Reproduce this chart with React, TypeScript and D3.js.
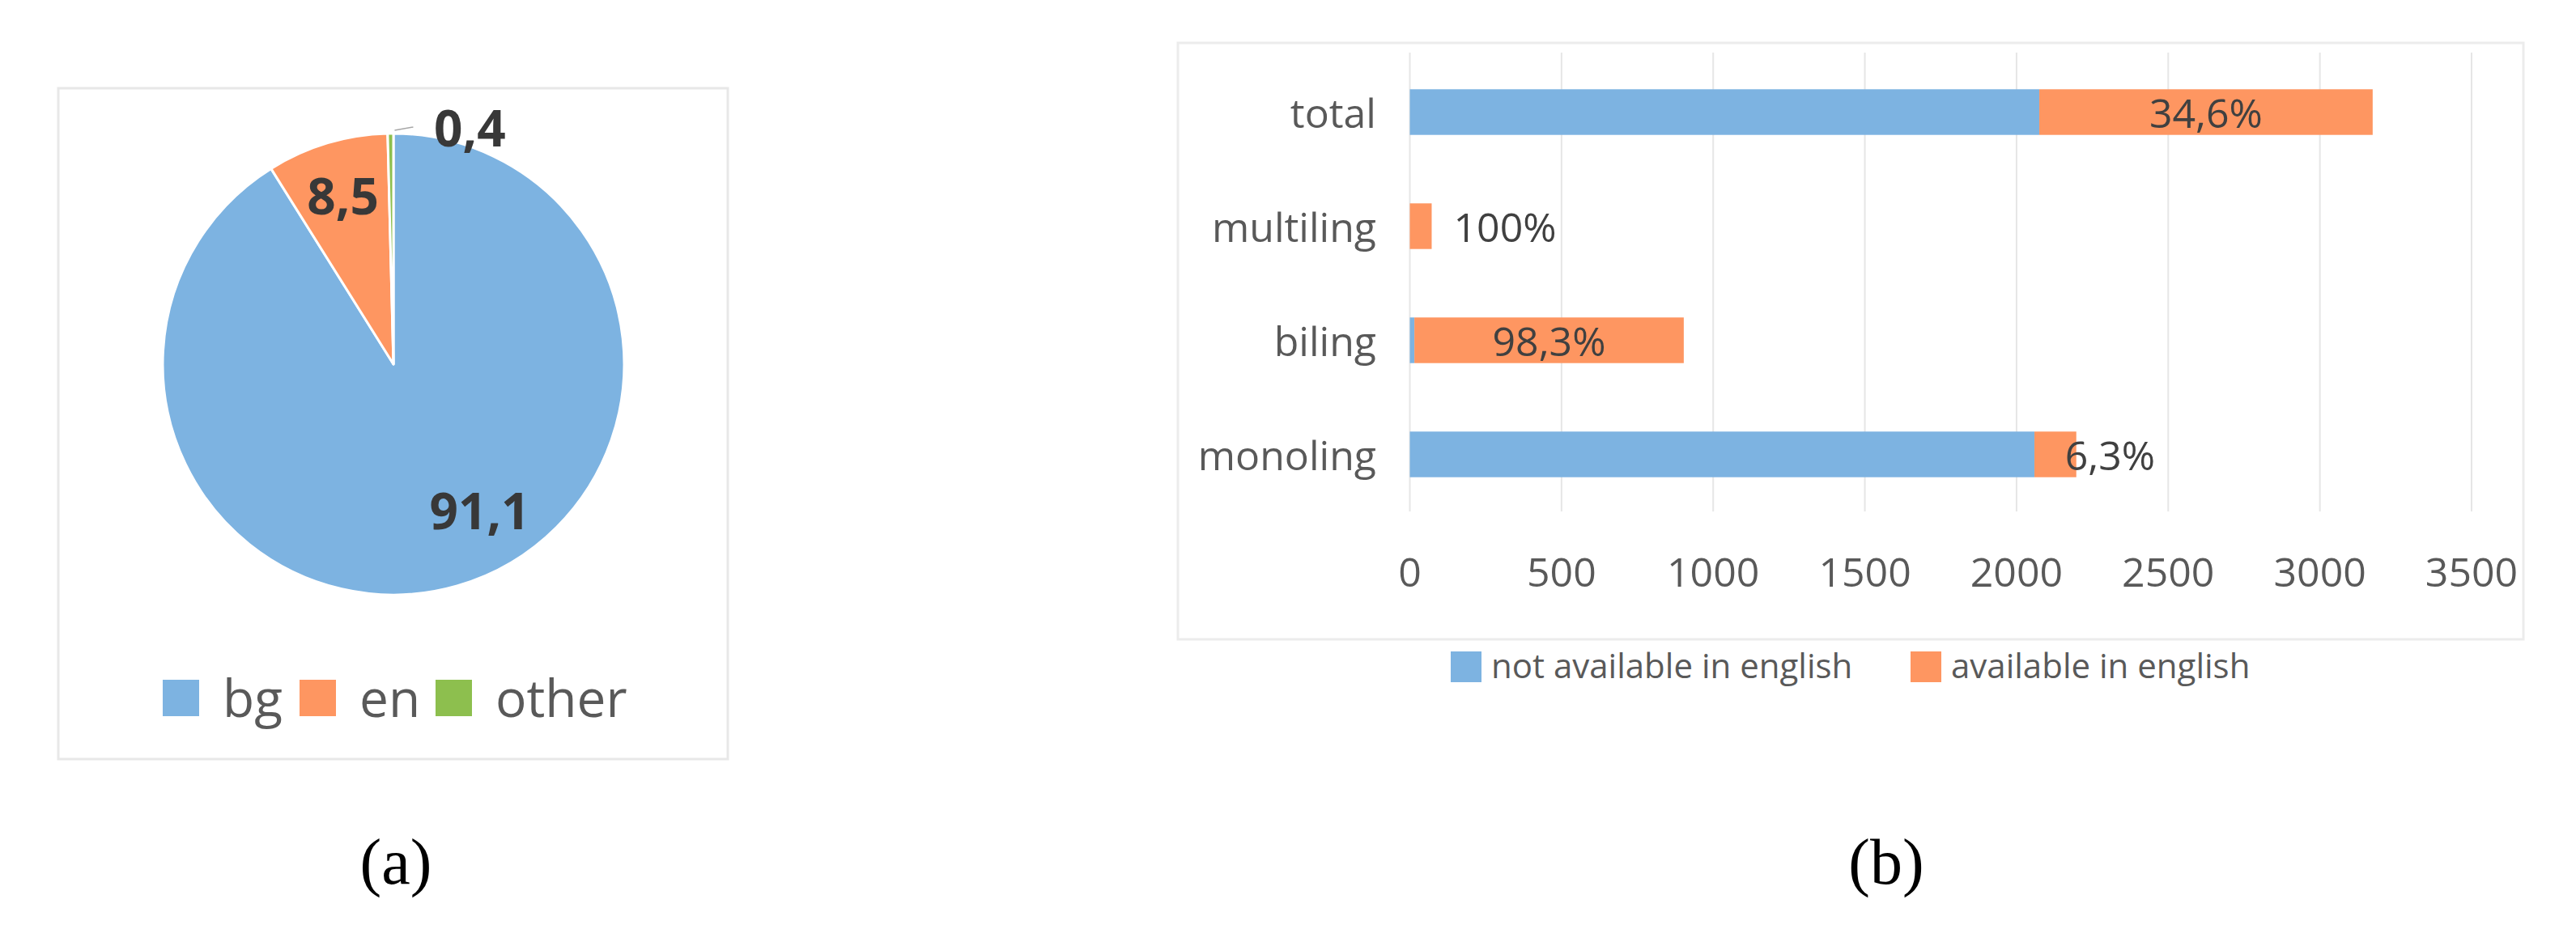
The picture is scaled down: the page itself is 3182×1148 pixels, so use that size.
import React from "react";
import * as d3 from "d3";

// ---------- data: panel (a) pie ----------
const pieLabels = ["bg", "en", "other"];
const pieValues = [91.1, 8.5, 0.4];
const pieValueText = ["91,1", "8,5", "0,4"];

// ---------- data: panel (b) stacked bars ----------
const barCategories = ["total", "multiling", "biling", "monoling"];
const notAvailableEn = [2075, 0, 15, 2059];
const availableEn = [1099, 72, 888, 138];
const pctLabels = ["34,6%", "100%", "98,3%", "6,3%"];
const xTicks = [0, 500, 1000, 1500, 2000, 2500, 3000, 3500];
const seriesNames = ["not available in english", "available in english"];

const BLUE = "#7db3e1";
const ORANGE = "#fe9661";
const GREEN = "#8dbf4e";
const pieColors = [BLUE, ORANGE, GREEN];
const SANS = "'Open Sans', 'Noto Sans', sans-serif";
const SERIF = "'Liberation Serif', 'DejaVu Serif', serif";

function PiePanel() {
  const cx = 486;
  const cy = 450;
  const r = 285;
  const arcs = d3
    .pie<number>()
    .sort(null)
    .value((d) => d)(pieValues);
  const arcGen = d3.arc<d3.PieArcDatum<number>>().innerRadius(0).outerRadius(r);
  // label placement per slice: radius fraction, angular nudge (rad)
  const labelR = [0.74, 0.76, 1.02];
  const labelNudge = [-0.25, 0, 0];
  const labelDx = [0, 0, 98];
  const fs = 62;
  const legendX = [201, 370, 538];
  return (
    <g>
      <rect x={72} y={109} width={827} height={829} fill="#fff" stroke="#e8e8e8" strokeWidth={3} />
      <g transform={`translate(${cx},${cy})`}>
        {arcs.map((a, i) => (
          <path key={i} d={arcGen(a) || ""} fill={pieColors[i]} stroke="#fff" strokeWidth={3} strokeLinejoin="round" />
        ))}
        {arcs.map((a, i) => {
          const mid = (a.startAngle + a.endAngle) / 2 + labelNudge[i];
          const rr = r * labelR[i];
          const x = Math.sin(mid) * rr + labelDx[i];
          const y = -Math.cos(mid) * rr;
          return (
            <g key={i}>
              {i === 2 && (
                <polyline
                  points={`${Math.sin(mid) * r + 5},${-r - 4} ${Math.sin(mid) * r + 28},${-r - 8}`}
                  fill="none"
                  stroke="#a6a6a6"
                  strokeWidth={1.5}
                />
              )}
              <text x={x} y={y + fs * 0.357} textAnchor="middle" fontFamily={SANS} fontWeight={700} fontSize={fs} fill="#383838">
                {pieValueText[i]}
              </text>
            </g>
          );
        })}
      </g>
      {pieLabels.map((l, i) => (
        <g key={l}>
          <rect x={legendX[i]} y={840} width={45} height={45} fill={pieColors[i]} />
          <text x={legendX[i] + 74} y={886} fontFamily={SANS} fontSize={64} fill="#595959">
            {l}
          </text>
        </g>
      ))}
      <text x={489} y={1092} textAnchor="middle" fontFamily={SERIF} fontSize={80} fill="#000">
        (a)
      </text>
    </g>
  );
}

function BarPanel() {
  const x = d3.scaleLinear().domain([0, 3500]).range([1741.5, 3053]);
  const y = d3.scaleBand<string>().domain(barCategories).range([68, 632]).paddingInner(0.6).paddingOuter(0.3);
  const bw = y.bandwidth();
  const fs = 50;
  const labelMode = ["center", "after", "center", "end"];
  return (
    <g>
      <rect x={1455} y={53} width={1662} height={737} fill="#fff" stroke="#ececec" strokeWidth={3} />
      {xTicks.map((t) => (
        <line key={t} x1={x(t)} x2={x(t)} y1={65} y2={632} stroke="#e6e6e6" strokeWidth={2} />
      ))}
      {barCategories.map((c, i) => {
        const y0 = y(c) as number;
        const mid = y0 + bw / 2;
        const xa = x(0);
        const xb = x(notAvailableEn[i]);
        const xc = x(notAvailableEn[i] + availableEn[i]);
        let lx = (xb + xc) / 2;
        let anchor: "middle" | "start" = "middle";
        if (labelMode[i] === "after") {
          lx = xc + 27;
          anchor = "start";
        } else if (labelMode[i] === "end") {
          lx = xc - 14;
          anchor = "start";
        }
        return (
          <g key={c}>
            <rect x={xa} y={y0} width={xb - xa} height={bw} fill={BLUE} />
            <rect x={xb} y={y0} width={xc - xb} height={bw} fill={ORANGE} />
            <text x={1700} y={mid + 19} textAnchor="end" fontFamily={SANS} fontSize={fs} fill="#595959">
              {c}
            </text>
            <text x={lx} y={mid + 19} textAnchor={anchor} fontFamily={SANS} fontSize={fs} fill="#404040">
              {pctLabels[i]}
            </text>
          </g>
        );
      })}
      {xTicks.map((t) => (
        <text key={"t" + t} x={x(t)} y={725} textAnchor="middle" fontFamily={SANS} fontSize={fs} fill="#595959">
          {t}
        </text>
      ))}
      {seriesNames.map((s, i) => {
        const lx = [1792, 2360][i];
        return (
          <g key={s}>
            <rect x={lx} y={805} width={38} height={38} fill={i === 0 ? BLUE : ORANGE} />
            <text x={lx + 50} y={838} fontFamily={SANS} fontSize={42} fill="#595959">
              {s}
            </text>
          </g>
        );
      })}
      <text x={2330} y={1092} textAnchor="middle" fontFamily={SERIF} fontSize={80} fill="#000">
        (b)
      </text>
    </g>
  );
}

export default function App() {
  return (
    <svg
      width={3182}
      height={1148}
      viewBox="0 0 3182 1148"
      style={{ position: "absolute", left: 0, top: 0, background: "#fff" }}
    >
      <rect x={0} y={0} width={3182} height={1148} fill="#fff" />
      <PiePanel />
      <BarPanel />
    </svg>
  );
}
